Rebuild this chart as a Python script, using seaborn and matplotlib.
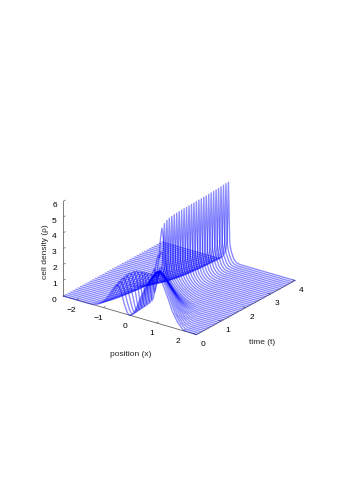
import numpy as np
import matplotlib
matplotlib.use("Agg")
import matplotlib.pyplot as plt
import seaborn as sns

sns.set_style("white")
plt.rcParams['font.family'] = ['Liberation Sans', 'DejaVu Sans']
plt.rcParams['axes3d.grid'] = False

# time of every profile line
times = [round(i * 0.1, 1) for i in range(41)]
# distance from the centre at which each profile is read
half_positions = [0, .05, .1, .2, .3, .4, .5, .6, .7, .8, .9, 1.0, 1.2, 1.4, 1.6, 1.8, 2.0, 2.5]
# densities, rows omit trailing zeros
# t = 0 .. 1.3, left of the centre
left_rows = [
    [0, .03, .13, .55, 1.15, 1.6, 1.68, 1.45, 1.15, .85, .58, .37, .12, .02],
    [.01, .05, .18, .7, 1.35, 1.8, 1.8, 1.48, 1.12, .8, .53, .32, .09, .01],
    [.01, .07, .25, .88, 1.58, 1.98, 1.88, 1.5, 1.08, .74, .47, .27, .07],
    [.02, .1, .33, 1.1, 1.85, 2.1, 1.85, 1.43, 1.0, .67, .41, .22, .05],
    [.03, .14, .43, 1.4, 2.1, 2.12, 1.75, 1.32, .92, .6, .35, .18, .03],
    [.05, .2, .56, 1.7, 2.2, 2.02, 1.6, 1.2, .83, .53, .3, .15, .02],
    [.08, .28, .72, 1.93, 2.14, 1.85, 1.45, 1.08, .75, .47, .26, .12, .02],
    [.13, .38, .9, 2.03, 2.0, 1.68, 1.3, .97, .67, .42, .22, .1, .01],
    [.2, .5, 1.08, 1.95, 1.85, 1.5, 1.17, .87, .6, .37, .2, .08, .01],
    [.32, .7, 1.3, 1.82, 1.65, 1.35, 1.05, .78, .54, .33, .17, .07],
    [.6, 1.05, 1.6, 1.7, 1.48, 1.22, .95, .7, .48, .3, .15, .06],
    [1.2, 1.7, 1.95, 1.55, 1.32, 1.08, .85, .63, .43, .27, .13, .05],
    [2.6, 2.75, 2.4, 1.45, 1.18, .96, .76, .56, .38, .24, .11, .04],
    [4.4, 3.8, 2.6, 1.35, 1.05, .85, .67, .5, .34, .21, .1, .03],
]
# t = 0 .. 1.3, right of the centre
right_rows = [
    [0, .03, .1, .4, .85, 1.3, 1.7, 2.1, 2.4, 2.65, 2.85, 3.0, 2.7, 1.9, 1.0, .4, .05],
    [.01, .04, .13, .48, .95, 1.4, 1.85, 2.25, 2.55, 2.78, 2.93, 2.95, 2.55, 1.7, .85, .3, .03],
    [.01, .05, .17, .57, 1.07, 1.55, 2.02, 2.42, 2.7, 2.87, 2.9, 2.82, 2.32, 1.45, .65, .2, .02],
    [.02, .07, .21, .67, 1.2, 1.72, 2.2, 2.57, 2.78, 2.8, 2.72, 2.6, 2.05, 1.2, .5, .13, .01],
    [.02, .09, .26, .78, 1.35, 1.92, 2.38, 2.65, 2.7, 2.68, 2.55, 2.35, 1.75, .95, .36, .08],
    [.03, .12, .32, .9, 1.55, 2.12, 2.5, 2.6, 2.58, 2.45, 2.25, 2.03, 1.45, .72, .24, .05],
    [.04, .15, .4, 1.05, 1.77, 2.3, 2.5, 2.48, 2.37, 2.18, 1.95, 1.7, 1.15, .53, .16, .03],
    [.06, .2, .5, 1.25, 2.0, 2.4, 2.38, 2.25, 2.08, 1.87, 1.62, 1.37, .88, .37, .1, .01],
    [.09, .27, .63, 1.5, 2.2, 2.3, 2.12, 1.95, 1.75, 1.53, 1.3, 1.07, .65, .25, .06],
    [.15, .38, .82, 1.82, 2.2, 2.05, 1.8, 1.6, 1.4, 1.2, 1.0, .8, .46, .16, .03],
    [.6, .9, 1.3, 2.1, 1.95, 1.7, 1.47, 1.28, 1.08, .9, .73, .57, .3, .1, .02],
    [1.2, 1.6, 2.1, 2.15, 1.65, 1.4, 1.18, 1.0, .83, .67, .52, .39, .19, .05],
    [2.6, 3.0, 3.0, 1.9, 1.4, 1.15, .95, .78, .63, .49, .37, .26, .11, .02],
    [4.4, 3.8, 2.6, 1.5, 1.15, .92, .75, .6, .47, .35, .25, .17, .06, .01],
]
# t = 1.4 .. 4, the same on both sides
spike_rows = [
    [4.6, 2.6, 1.7, 1.2, .95, .78, .62, .47, .35, .24, .15, .09, .03],
    [4.72, 2.3, 1.55, 1.08, .85, .68, .52, .39, .28, .18, .11, .06, .02],
    [4.77, 2.1, 1.45, 1.0, .76, .58, .44, .32, .22, .14, .08, .04, .01],
    [4.8, 2.0, 1.36, .92, .68, .5, .37, .26, .17, .1, .05, .02],
    [4.82, 1.9, 1.3, .85, .6, .43, .3, .2, .13, .07, .03, .01],
    [4.84, 1.82, 1.23, .78, .54, .37, .25, .16, .09, .05, .02],
    [4.85, 1.75, 1.18, .72, .48, .31, .2, .12, .07, .03, .01],
    [4.85, 1.7, 1.13, .67, .43, .27, .16, .09, .05, .02],
    [4.86, 1.65, 1.09, .62, .38, .23, .13, .07, .03, .01],
    [4.86, 1.6, 1.05, .58, .34, .19, .1, .05, .02],
    [4.87, 1.56, 1.01, .54, .3, .16, .08, .04, .01],
    [4.87, 1.52, .98, .5, .27, .13, .06, .03, .01],
    [4.88, 1.48, .95, .47, .24, .11, .05, .02],
    [4.88, 1.45, .92, .44, .21, .09, .04, .01],
    [4.89, 1.42, .89, .41, .19, .08, .03, .01],
    [4.89, 1.39, .86, .39, .17, .07, .02],
    [4.9, 1.36, .84, .37, .15, .06, .02],
    [4.9, 1.34, .82, .35, .13, .05, .01],
    [4.91, 1.32, .8, .33, .12, .04, .01],
    [4.92, 1.3, .78, .32, .11, .03],
    [4.93, 1.28, .76, .3, .1, .03],
    [4.94, 1.26, .75, .29, .09, .02],
    [4.95, 1.25, .74, .28, .08, .02],
    [4.96, 1.23, .72, .27, .07, .02],
    [4.98, 1.22, .71, .26, .06, .01],
    [4.99, 1.21, .7, .25, .06, .01],
    [5.0, 1.2, .7, .25, .05, .01],
]
x_ticks = [-2, -1, 0, 1, 2]
t_ticks = [0, 1, 2, 3, 4]
z_ticks = [0, 1, 2, 3, 4, 5, 6]
x_tick_labels = ['\u22122', '\u22121', '0', '1', '2']

blue = sns.color_palette(['#0000ff'])[0]

half = np.array(half_positions)
positions = np.concatenate([-half[:0:-1], half])
n = len(half)


def full(row):
    return np.array(list(row) + [0] * (n - len(row)), dtype=float)


W, H = 346, 490
fig = plt.figure(figsize=(W / 100, H / 100), dpi=100)
ax = fig.add_axes([1.5 / W, (244.5 - 173) / H, 1, W / H], projection='3d', proj_type='ortho')
ax.set_box_aspect((167, 170, 105), zoom=0.72)
ax.view_init(elev=23.5, azim=-54)
ax.patch.set_alpha(0)

all_left = left_rows + spike_rows
all_right = right_rows + spike_rows
for t, lr, rr in zip(times, all_left, all_right):
    z = np.concatenate([full(lr)[:0:-1], full(rr)])
    ax.plot(positions, np.full_like(positions, t, dtype=float), z, color=blue, lw=1.0, alpha=0.45)

ax.set_xlim(-2.5, 2.5, view_margin=0)
ax.set_ylim(0, 4, view_margin=0)
ax.set_zlim(0, 6, view_margin=0)
ax.set_xticks(x_ticks, x_tick_labels)
ax.set_yticks(t_ticks)
ax.set_zticks(z_ticks)
ax.grid(False)
for axis in (ax.xaxis, ax.yaxis, ax.zaxis):
    axis.set_pane_color((1, 1, 1, 0))
    axis.pane.set_edgecolor((1, 1, 1, 0))
    axis.line.set_color('#666666')
    axis.line.set_linewidth(0.6)
    axis._axinfo['tick']['inward_factor'] = 0.0
    axis._axinfo['tick']['outward_factor'] = 0.25
    axis._axinfo['tick']['linewidth'] = {True: 0.5, False: 0.5}
    axis._axinfo['tick']['color'] = '#666666'
ax.tick_params(labelsize=6, pad=-2, colors='black', color='#666666')
ax.xaxis.set_tick_params(pad=-1.5)
ax.zaxis.set_tick_params(pad=-3)
ax.zaxis.set_ticks_position('lower')

fig.text(131 / W, 1 - 354 / H, 'position (x)', fontsize=6, ha='center', va='center', color='#222222')
fig.text(262 / W, 1 - 343 / H, 'time (t)', fontsize=6, ha='center', va='center', color='#222222')
fig.text(46 / W, 1 - 252 / H, 'cell density (\u03c1)', fontsize=6, ha='center', va='center', rotation=90, color='#222222')

fig.savefig('out.png', dpi=100)
